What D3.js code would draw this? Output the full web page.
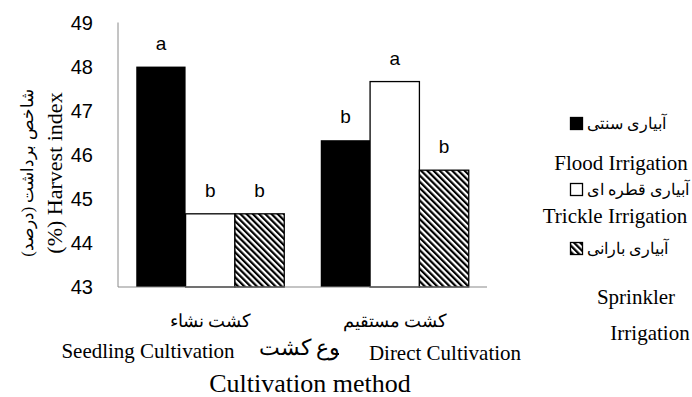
<!DOCTYPE html>
<html>
<head>
<meta charset="utf-8">
<script src="https://cdn.jsdelivr.net/npm/d3@7"></script>
<style>
  body { margin: 0; background: #fff; }
  svg { display: block; }
  .serif { font-family: "Liberation Serif", "DejaVu Serif", serif; }
  .sans { font-family: "Liberation Sans", "Open Sans", sans-serif; }
</style>
</head>
<body>
<div id="chart"></div>
<script>
const width = 692;
const height = 397;

// data
const groups = ["Seedling", "Direct"];
const groups_fa = ["کشت نشاء", "کشت مستقیم"];
const groups_en = ["Seedling Cultivation", "Direct Cultivation"];
const series = ["flood", "trickle", "sprinkler"];
const flood = [48.0, 46.33];
const trickle = [44.66, 47.66];
const sprinkler = [44.66, 45.65];
const letters_flood = ["a", "b"];
const letters_trickle = ["b", "a"];
const letters_sprinkler = ["b", "b"];
const y_ticks = [43, 44, 45, 46, 47, 48, 49];
const legend_fa = ["آبیاری سنتی", "آبیاری قطره ای", "آبیاری بارانی"];
const legend_en = [["Flood Irrigation"], ["Trickle Irrigation"], ["Sprinkler", "Irrigation"]];

const values = { flood: flood, trickle: trickle, sprinkler: sprinkler };
const letters = { flood: letters_flood, trickle: letters_trickle, sprinkler: letters_sprinkler };

let svg = d3.select("#chart").append("svg")
  .attr("width", width)
  .attr("height", height);

// hatch pattern
let defs = svg.append("defs");
let pat = defs.append("pattern")
  .attr("id", "hatch")
  .attr("patternUnits", "userSpaceOnUse")
  .attr("width", 4.4)
  .attr("height", 4.4)
  .attr("patternTransform", "rotate(-45)");
pat.append("rect").attr("width", 4.4).attr("height", 4.4).attr("fill", "#fff");
pat.append("rect").attr("width", 2.2).attr("height", 4.4).attr("fill", "#000");

const fills = { flood: "#000", trickle: "#fff", sprinkler: "url(#hatch)" };

// scales
let x0 = d3.scaleBand()
  .domain(groups)
  .range([118, 487]);
let x1 = d3.scaleBand()
  .domain(series)
  .range([0, x0.bandwidth()])
  .paddingOuter(0.37);
let y = d3.scaleLinear()
  .domain([43, 49])
  .range([287, 22.5]);

// axes lines
svg.append("line")
  .attr("x1", 118).attr("x2", 118)
  .attr("y1", y(49)).attr("y2", y(43))
  .attr("stroke", "#8a8a8a").attr("stroke-width", 1);

// y tick labels
svg.append("g").selectAll("text")
  .data(y_ticks)
  .enter().append("text")
  .attr("class", "sans")
  .attr("x", 93)
  .attr("y", d => y(d))
  .attr("dy", "0.35em")
  .attr("text-anchor", "end")
  .attr("font-size", 20)
  .text(d => d);

// bars
let gBars = svg.append("g");
groups.forEach(function(g, gi) {
  series.forEach(function(s) {
    let v = values[s][gi];
    gBars.append("rect")
      .attr("x", x0(g) + x1(s))
      .attr("y", y(v))
      .attr("width", x1.bandwidth())
      .attr("height", y(43) - y(v))
      .attr("fill", fills[s])
      .attr("stroke", "#000")
      .attr("stroke-width", s === "flood" ? 0 : 1.3);
    gBars.append("text")
      .attr("class", "sans")
      .attr("x", x0(g) + x1(s) + x1.bandwidth() / 2)
      .attr("y", y(v) - 17)
      .attr("text-anchor", "middle")
      .attr("font-size", 19)
      .text(letters[s][gi]);
  });
});

svg.append("line")
  .attr("x1", 118).attr("x2", 487)
  .attr("y1", y(43)).attr("y2", y(43))
  .attr("stroke", "#8a8a8a").attr("stroke-width", 1.2);

// y axis titles
svg.append("text")
  .attr("class", "serif")
  .attr("transform", "translate(33,173) rotate(-90)")
  .attr("text-anchor", "middle")
  .attr("font-size", 16.5)
  .text("شاخص برداشت (درصد)");
svg.append("text")
  .attr("class", "serif")
  .attr("transform", "translate(62,173) rotate(-90)")
  .attr("text-anchor", "middle")
  .attr("font-size", 22)
  .text("(%) Harvest index");

// x group labels
svg.append("g").selectAll("text")
  .data(groups)
  .enter().append("text")
  .attr("class", "serif")
  .attr("x", d => x0(d) + x0.bandwidth() / 2)
  .attr("y", 327)
  .attr("text-anchor", "middle")
  .attr("font-size", 18)
  .text((d, i) => groups_fa[i]);

svg.append("text")
  .attr("class", "serif")
  .attr("x", 346)
  .attr("y", 355)
  .attr("text-anchor", "end")
  .attr("font-size", 22)
  .text("نوع کشت");

svg.append("text")
  .attr("class", "serif")
  .attr("x", 148)
  .attr("y", 358)
  .attr("text-anchor", "middle")
  .attr("font-size", 21)
  .text(groups_en[0]);

// white box of the second label hides part of the persian title
svg.append("rect")
  .attr("x", 339).attr("y", 338)
  .attr("width", 186).attr("height", 26)
  .attr("fill", "#fff");
svg.append("text")
  .attr("class", "serif")
  .attr("x", 445)
  .attr("y", 360)
  .attr("text-anchor", "middle")
  .attr("font-size", 21)
  .text(groups_en[1]);

svg.append("text")
  .attr("class", "serif")
  .attr("x", 310)
  .attr("y", 392)
  .attr("text-anchor", "middle")
  .attr("font-size", 26)
  .text("Cultivation method");

// legend
const leg_sq_y = [117, 183, 242];
const leg_en_y = [[170], [223], [304, 340]];
const leg_en_x = [[621], [615], [636, 650]];
series.forEach(function(s, i) {
  svg.append("rect")
    .attr("x", 570.5).attr("y", leg_sq_y[i] + 0.5)
    .attr("width", 12).attr("height", 12)
    .attr("fill", fills[s])
    .attr("stroke", "#000")
    .attr("stroke-width", 1.3);
  svg.append("text")
    .attr("class", "serif")
    .attr("x", 587)
    .attr("y", leg_sq_y[i] + 12)
    .attr("text-anchor", "start")
    .attr("font-size", 16)
    .text(legend_fa[i]);
  legend_en[i].forEach(function(t, j) {
    svg.append("text")
      .attr("class", "serif")
      .attr("x", leg_en_x[i][j])
      .attr("y", leg_en_y[i][j])
      .attr("text-anchor", "middle")
      .attr("font-size", 21)
      .text(t);
  });
});
</script>
</body>
</html>
